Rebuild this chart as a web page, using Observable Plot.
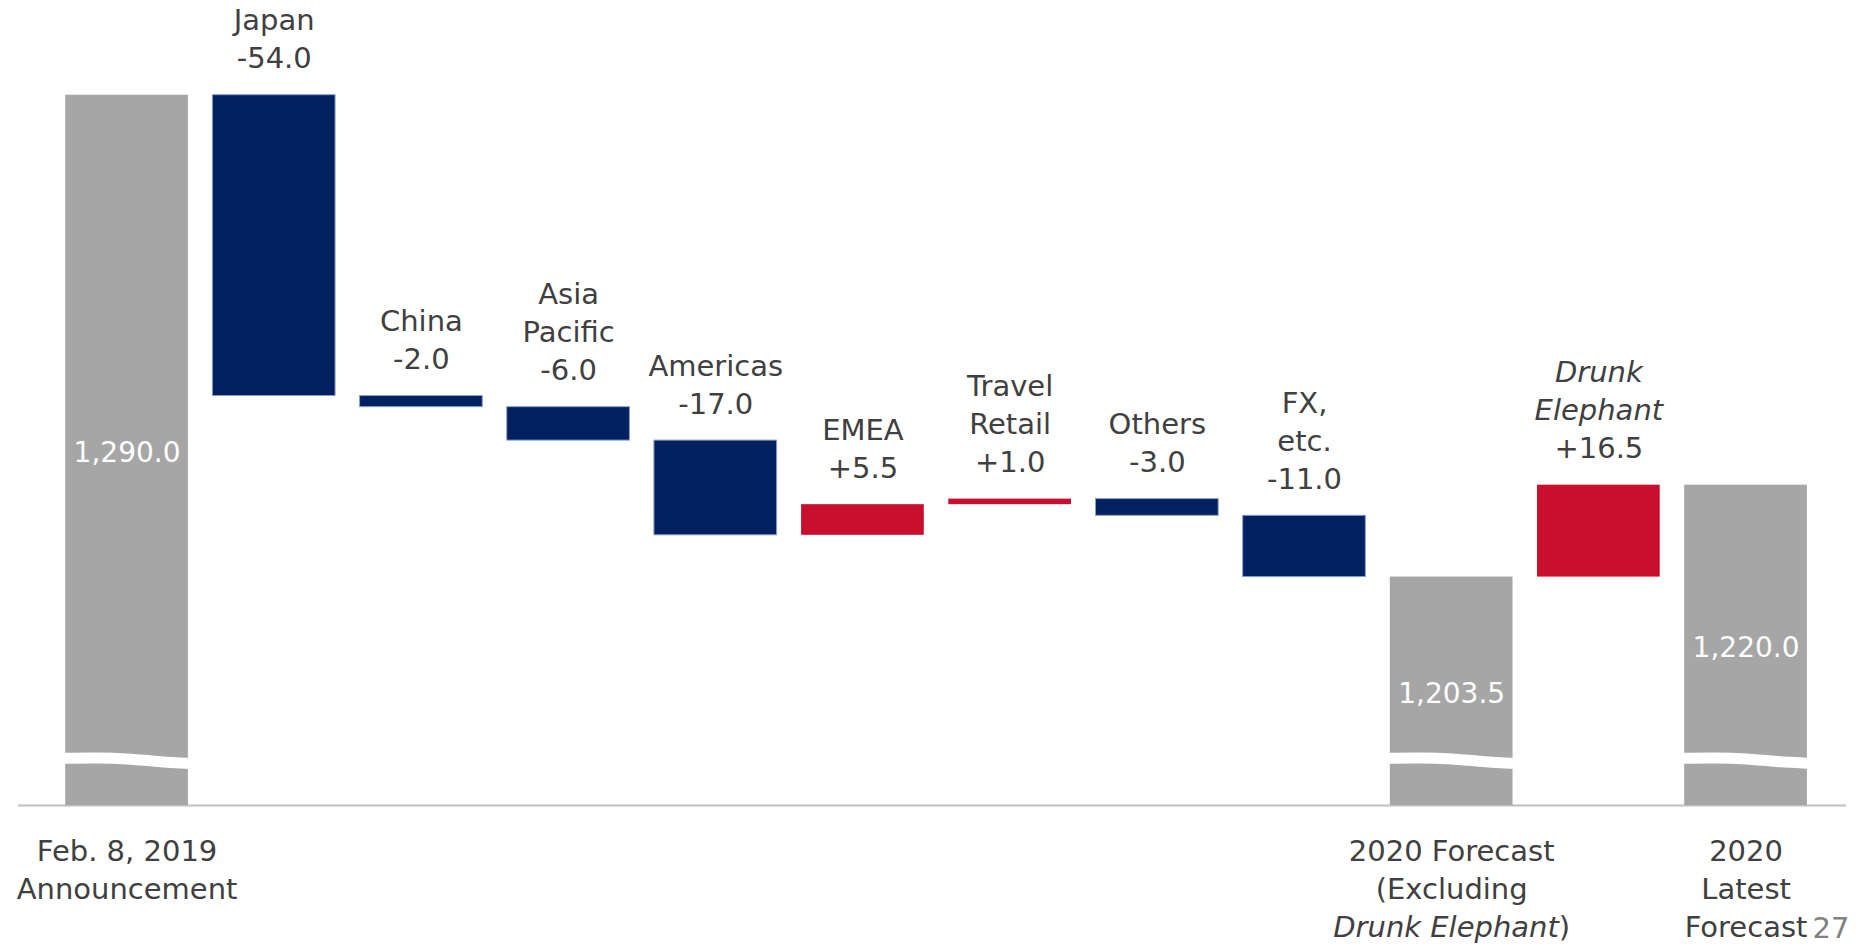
<!DOCTYPE html>
<html>
<head>
<meta charset="utf-8">
<script src="https://cdn.jsdelivr.net/npm/d3@7"></script>
<script src="https://cdn.jsdelivr.net/npm/@observablehq/plot@0.6"></script>
<style>
  html, body { margin: 0; padding: 0; background: #ffffff; overflow: hidden; }
  #chart svg { display: block; }
</style>
</head>
<body>
<div id="chart"></div>
<script>
// ---- data ----
const categories = [
  "Feb. 8, 2019\nAnnouncement",
  "Japan",
  "China",
  "Asia\nPacific",
  "Americas",
  "EMEA",
  "Travel\nRetail",
  "Others",
  "FX,\netc.",
  "2020 Forecast\n(Excluding\nDrunk Elephant)",
  "Drunk\nElephant",
  "2020\nLatest\nForecast"
];
const barTypes = ["total", "change", "change", "change", "change", "change", "change", "change", "change", "total", "change", "total"];
const values = [1290.0, -54.0, -2.0, -6.0, -17.0, 5.5, 1.0, -3.0, -11.0, 1203.5, 16.5, 1220.0];
const italicNames = ["Drunk\nElephant"];
const pageNumber = "27";

// ---- presentation settings ----
const yBase = 1162.5;          // value at the (cut) baseline
const breakLevel = 1171;       // where the axis break is drawn on total bars
const half = 0.4168;           // half bar width in x units
const colors = {total: "#A6A6A6", neg: "#002060", pos: "#C8102E"};
const textColor = "#404040";
const font = "DejaVu Sans";

let running = 0;
const rows = categories.map((name, i) => {
  const v = values[i], type = barTypes[i];
  let start, end;
  if (type === "total") { start = yBase; end = v; running = v; }
  else { start = running; end = running + v; running = end; }
  return {
    i, name, type, value: v, start, end,
    top: Math.max(start, end),
    kind: type === "total" ? "total" : (v < 0 ? "neg" : "pos")
  };
});
const totals = rows.filter(d => d.type === "total");
const changes = rows.filter(d => d.type === "change");
const isItalic = d => italicNames.includes(d.name);

const fmtChange = v => (v > 0 ? "+" : "-") + Math.abs(v).toFixed(1);
const fmtTotal = d3.format(",.1f");

// axis-break wave drawn across each total bar
const waveShape = [[-0.02, 0.0], [0.25, 0.04], [0.5, -0.15], [0.75, -0.6], [1.02, -0.95]];
const breakPts = totals.flatMap(d => waveShape.map(([t, o]) => ({
  bar: d.i, x: d.i - half + t * 2 * half, y: breakLevel + o
})));

const chart = Plot.plot({
  width: 1859,
  height: 947,
  marginTop: 0,
  marginBottom: 142,
  marginLeft: 18,
  marginRight: 13,
  style: {fontFamily: font, background: "#ffffff", color: textColor},
  x: {domain: [-0.7375, 11.6825], axis: null},
  y: {domain: [yBase, 1307], axis: null},
  marks: [
    Plot.ruleY([yBase], {stroke: "#BFBFBF", strokeWidth: 2}),
    Plot.rectY(rows.filter(d => d.kind !== "neg"), {
      x1: d => d.i - half, x2: d => d.i + half,
      y1: "start", y2: "end",
      fill: d => colors[d.kind]
    }),
    Plot.rectY(rows.filter(d => d.kind === "neg"), {
      x1: d => d.i - half, x2: d => d.i + half,
      y1: "start", y2: "end",
      fill: colors.neg, stroke: "#8C9DC6", strokeWidth: 1
    }),
    Plot.line(breakPts, {
      x: "x", y: "y", z: "bar", curve: "natural",
      stroke: "#ffffff", strokeWidth: 11, strokeLinecap: "butt"
    }),
    // values inside the total bars
    Plot.text(totals, {
      x: "i", y: d => (yBase + d.value) / 2, text: d => fmtTotal(d.value),
      fill: "#ffffff", fontSize: 28, lineAnchor: "middle", dy: 3
    }),
    // change values above the bars
    Plot.text(changes, {
      x: "i", y: "top", text: d => fmtChange(d.value),
      fill: textColor, fontSize: 29, lineAnchor: "bottom", dy: -27
    }),
    // change names above the values
    Plot.text(changes.filter(d => !isItalic(d)), {
      x: "i", y: "top", text: "name",
      fill: textColor, fontSize: 29, lineHeight: 1.31, lineAnchor: "bottom", dy: -65
    }),
    Plot.text(changes.filter(isItalic), {
      x: "i", y: "top", text: "name", fontStyle: "italic",
      fill: textColor, fontSize: 29, lineHeight: 1.31, lineAnchor: "bottom", dy: -65
    }),
    // category labels under the total bars
    Plot.text(totals, {
      x: "i", frameAnchor: "bottom", text: "name",
      fill: textColor, fontSize: 29, lineHeight: 1.3, lineAnchor: "top", dy: 29
    }),
    // slide page number
    Plot.text([pageNumber], {
      frameAnchor: "bottom-right", text: d => d, textAnchor: "end",
      fill: "#808080", fontSize: 29, lineAnchor: "bottom", dx: 3, dy: 132
    })
  ]
});

// "Drunk Elephant" is italic inside the forecast label, the closing parenthesis is not
d3.select(chart).selectAll("tspan")
  .filter(function () { return this.textContent === "Drunk Elephant)"; })
  .each(function () {
    const t = d3.select(this);
    t.text(null);
    t.append("tspan").attr("font-style", "italic").text("Drunk Elephant");
    t.append("tspan").text(")");
  });

document.getElementById("chart").appendChild(chart);
</script>
</body>
</html>
